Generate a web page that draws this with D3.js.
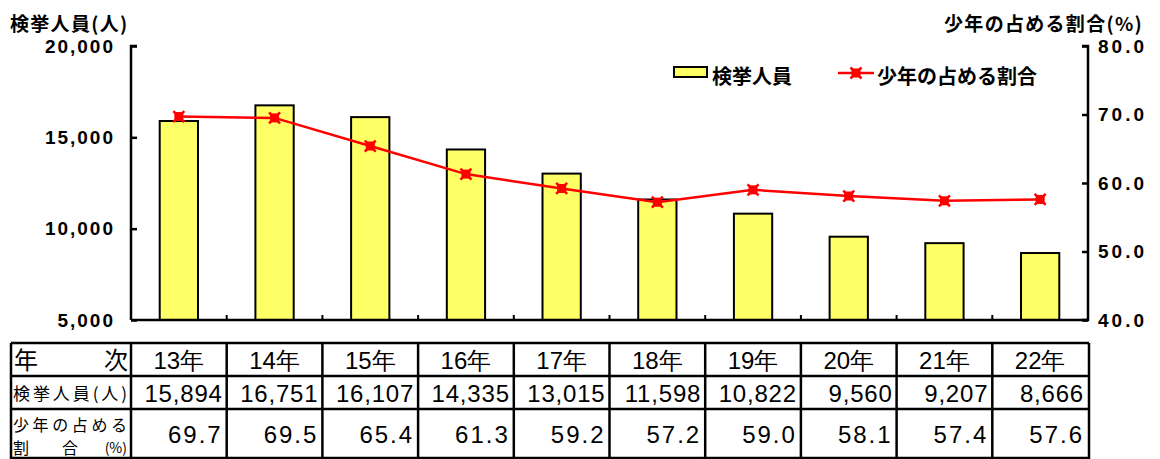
<!DOCTYPE html>
<html><head><meta charset="utf-8">
<script src="https://cdn.jsdelivr.net/npm/d3@7/dist/d3.min.js"></script>
<style>
body{margin:0;background:#fff;}
svg{display:block;}
</style></head>
<body>
<svg id="c" width="1160" height="459"></svg>
<script>
const categories = ["13年","14年","15年","16年","17年","18年","19年","20年","21年","22年"];
const arrests = [15894,16751,16107,14335,13015,11598,10822,9560,9207,8666];
const shares = [69.7,69.5,65.4,61.3,59.2,57.2,59.0,58.1,57.4,57.6];
const leftTicks = [5000,10000,15000,20000];
const rightTicks = [40,50,60,70,80];

const svg = d3.select("#c");
const L = 131, R = 1088, T = 46, B = 320;
const jp = "'Noto Sans CJK JP', sans-serif";
const num = "'Liberation Sans', Arial, sans-serif";

const x = d3.scaleBand().domain(categories).range([L, R]).paddingInner(0).paddingOuter(0);
const yL = d3.scaleLinear().domain([5000, 20000]).range([B, T]);
const yR = d3.scaleLinear().domain([40, 80]).range([B, T]);

// bars
const bw = x.bandwidth() * 0.4;
svg.append("g").selectAll("rect").data(arrests).join("rect")
  .attr("x", (d,i) => x(categories[i]) + x.bandwidth()/2 - bw/2)
  .attr("y", d => yL(d))
  .attr("width", bw)
  .attr("height", d => B - yL(d))
  .attr("fill", "#FFFF66").attr("stroke", "#000").attr("stroke-width", 2);

// axes
const axL = d3.axisLeft(yL).tickValues(leftTicks).tickSize(-6).tickPadding(16)
  .tickFormat(d3.format(","));
const gL = svg.append("g").attr("transform", `translate(${L},0)`).call(axL);
gL.select(".domain").attr("d", `M6,${T}H0V${B}`).attr("stroke-width", 2.5);
gL.selectAll(".tick line").attr("stroke-width", 2.5);
gL.selectAll("text").attr("font-family", num).attr("font-weight", "bold")
  .attr("font-size", 19).attr("letter-spacing", 2).attr("fill", "#000");

const axR = d3.axisRight(yR).tickValues(rightTicks).tickSize(-6).tickPadding(10)
  .tickFormat(d3.format(".1f"));
const gR = svg.append("g").attr("transform", `translate(${R},0)`).call(axR);
gR.select(".domain").attr("d", `M-6,${T}H0V${B}H-6`).attr("stroke-width", 2.5);
gR.selectAll(".tick line").attr("stroke-width", 2.5);
gR.selectAll("text").attr("font-family", num).attr("font-weight", "bold")
  .attr("font-size", 19).attr("letter-spacing", 3).attr("fill", "#000");

// x baseline with inward ticks at band boundaries
const gX = svg.append("g");
gX.append("line").attr("x1", L).attr("x2", R).attr("y1", B).attr("y2", B)
  .attr("stroke", "#000").attr("stroke-width", 2.5);
gX.selectAll("line.t").data(categories.slice(1)).join("line").attr("class","t")
  .attr("x1", d => x(d)).attr("x2", d => x(d)).attr("y1", B).attr("y2", B - 5)
  .attr("stroke", "#000").attr("stroke-width", 2);

// line series
const line = d3.line().x((d,i) => x(categories[i]) + x.bandwidth()/2).y(d => yR(d));
svg.append("path").datum(shares).attr("d", line).attr("fill","none")
  .attr("stroke","#FF0000").attr("stroke-width", 2.5);

function marker(g, cx, cy) {
  g.append("rect").attr("x", cx-4.5).attr("y", cy-4.5).attr("width", 9).attr("height", 9).attr("fill", "#FF0000");
  g.append("path").attr("d", `M${cx-5.5},${cy-5.5}L${cx+5.5},${cy+5.5}M${cx+5.5},${cy-5.5}L${cx-5.5},${cy+5.5}`)
    .attr("stroke", "#FF0000").attr("stroke-width", 2.5);
}
const gm = svg.append("g");
shares.forEach((d,i) => marker(gm, x(categories[i]) + x.bandwidth()/2, yR(d)));

// axis titles
svg.append("text").attr("x", 10).attr("y", 31).text("検挙人員(人)")
  .attr("font-family", jp).attr("font-weight", "bold").attr("font-size", 19).attr("letter-spacing", 1.3);
svg.append("text").attr("x", 1143).attr("y", 31).attr("text-anchor","end").text("少年の占める割合(%)")
  .attr("font-family", jp).attr("font-weight", "bold").attr("font-size", 19).attr("letter-spacing", 1.3);

// legend
const lg = svg.append("g");
lg.append("rect").attr("x", 674).attr("y", 67).attr("width", 33).attr("height", 10)
  .attr("fill", "#FFFF66").attr("stroke", "#000").attr("stroke-width", 2);
lg.append("text").attr("x", 712).attr("y", 84).text("検挙人員")
  .attr("font-family", jp).attr("font-weight", "bold").attr("font-size", 20);
lg.append("line").attr("x1", 838).attr("x2", 874).attr("y1", 73).attr("y2", 73)
  .attr("stroke", "#FF0000").attr("stroke-width", 2.5);
marker(lg, 856, 73);
lg.append("text").attr("x", 877).attr("y", 84).text("少年の占める割合")
  .attr("font-family", jp).attr("font-weight", "bold").attr("font-size", 20);

// data table
const tT = 343, r1 = 376, r2 = 409, tB = 459, tL = 11;
const tg = svg.append("g");
const hdr = tg.append("g");
hdr.selectAll("text").data(categories).join("text")
  .attr("x", d => x(d) + x.bandwidth()/2).attr("y", r1 - 7).attr("text-anchor","middle")
  .text(d => d).attr("font-family", num).attr("font-size", 24);
tg.append("text").attr("x", 14).attr("y", r1 - 7).text("年").attr("font-family", jp).attr("font-size", 24);
tg.append("text").attr("x", 128).attr("y", r1 - 7).attr("text-anchor","end").text("次").attr("font-family", jp).attr("font-size", 24);
tg.append("text").attr("x", 13).attr("y", r2 - 9).text("検挙人員(人)").attr("font-family", jp)
  .attr("font-size", 17).attr("textLength", 114).attr("lengthAdjust","spacing");
tg.append("text").attr("x", 13).attr("y", 431).text("少年の占める").attr("font-family", jp)
  .attr("font-size", 16).attr("textLength", 114).attr("lengthAdjust","spacing");
tg.append("text").attr("x", 13).attr("y", 454).text("割").attr("font-family", jp).attr("font-size", 16);
tg.append("text").attr("x", 62).attr("y", 454).text("合").attr("font-family", jp).attr("font-size", 16);
tg.append("text").attr("x", 127).attr("y", 453).attr("text-anchor","end").text("(%)").attr("font-family", jp).attr("font-size", 14);

tg.append("g").selectAll("text").data(arrests).join("text")
  .attr("x", (d,i) => x(categories[i]) + x.bandwidth() - 4).attr("y", r2 - 7).attr("text-anchor","end")
  .text(d => d3.format(",")(d)).attr("font-family", num).attr("font-size", 24).attr("letter-spacing", 0.8);
tg.append("g").selectAll("text").data(shares).join("text")
  .attr("x", (d,i) => x(categories[i]) + x.bandwidth() - 4).attr("y", 443).attr("text-anchor","end")
  .text(d => d3.format(".1f")(d)).attr("font-family", num).attr("font-size", 24).attr("letter-spacing", 2);

// grid lines
function hl(y, x1, x2){ tg.append("line").attr("x1",x1).attr("x2",x2).attr("y1",y).attr("y2",y).attr("stroke","#000").attr("stroke-width",2.5); }
function vl(xx, y1, y2){ tg.append("line").attr("x1",xx).attr("x2",xx).attr("y1",y1).attr("y2",y2).attr("stroke","#000").attr("stroke-width",2.5); }
hl(tT, tL, R+1); hl(r1, tL, R+1); hl(r2, tL, R+1); hl(tB-1, tL, R+1);
vl(tL, tT, tB);
categories.forEach(c => vl(x(c), tT, tB));
vl(R+1, tT, tB);
</script>
</body></html>
